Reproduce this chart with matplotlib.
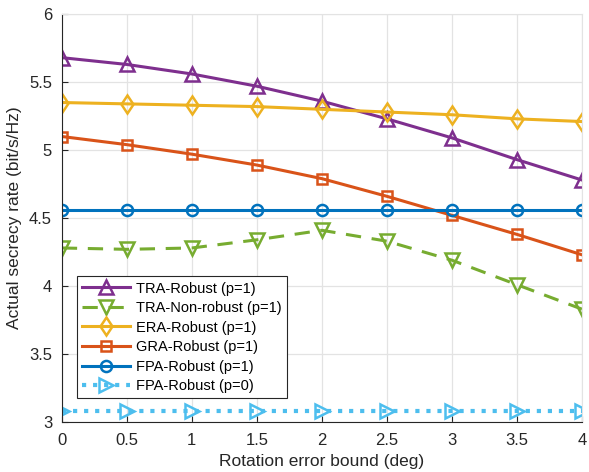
import numpy as np
import matplotlib.pyplot as plt

# Rotation error bound (deg)
x = [0, 0.5, 1, 1.5, 2, 2.5, 3, 3.5, 4]

tra_robust = [5.68, 5.63, 5.56, 5.47, 5.36, 5.23, 5.09, 4.93, 4.78]
tra_nonrobust = [4.28, 4.27, 4.28, 4.34, 4.41, 4.33, 4.19, 4.01, 3.83]
era_robust = [5.35, 5.34, 5.33, 5.32, 5.30, 5.28, 5.26, 5.23, 5.21]
gra_robust = [5.10, 5.04, 4.97, 4.89, 4.79, 4.66, 4.52, 4.38, 4.23]
fpa_robust_p1 = [4.56] * 9
fpa_robust_p0 = [3.08] * 9

labels = ['TRA-Robust (p=1)', 'TRA-Non-robust (p=1)', 'ERA-Robust (p=1)',
          'GRA-Robust (p=1)', 'FPA-Robust (p=1)', 'FPA-Robust (p=0)']

plt.rcParams['font.family'] = ['Liberation Sans', 'DejaVu Sans']

fig = plt.figure(figsize=(5.89, 4.72), dpi=100)
ax = fig.add_axes([0.105, 0.106, 0.883, 0.864])

ms = 9.5
mew = 1.8
lw = 2.2
ax.plot(x, tra_robust, '-', color='#7E2F8E', marker='^', ms=ms, mfc='none', mew=mew, lw=lw, label=labels[0])
ax.plot(x, tra_nonrobust, '--', color='#77AC30', marker='v', ms=ms, mfc='none', mew=mew, lw=lw, label=labels[1],
        dashes=(5, 3.5))
ax.plot(x, era_robust, '-', color='#EDB120', marker='d', ms=ms, mfc='none', mew=mew, lw=lw, label=labels[2])
ax.plot(x, gra_robust, '-', color='#D95319', marker='s', ms=7.5, mfc='none', mew=mew, lw=lw, label=labels[3])
ax.plot(x, fpa_robust_p1, '-', color='#0072BD', marker='o', ms=8, mfc='none', mew=mew, lw=lw, label=labels[4])
ax.plot(x, fpa_robust_p0, ':', color='#4DBEEE', marker='>', ms=ms, mfc='none', mew=mew, lw=3, label=labels[5])

ax.set_xlim(0, 4)
ax.set_ylim(3, 6)
ax.set_xticks(x)
ax.set_xticklabels(['0', '0.5', '1', '1.5', '2', '2.5', '3', '3.5', '4'])
ax.set_yticks([3, 3.5, 4, 4.5, 5, 5.5, 6])
ax.set_yticklabels(['3', '3.5', '4', '4.5', '5', '5.5', '6'])
ax.grid(True, color='#e3e3e3', lw=0.9)
ax.set_axisbelow(True)
ax.tick_params(direction='in', labelsize=12, colors='#262626', length=4)
ax.tick_params(axis='x', pad=8)
ax.tick_params(axis='y', pad=7)
for s in ['top', 'right']:
    ax.spines[s].set_color('#e3e3e3')
for s in ['left', 'bottom']:
    ax.spines[s].set_color('#262626')
ax.set_xlabel('Rotation error bound (deg)', fontsize=12.5, color='#262626', labelpad=4)
ax.set_ylabel('Actual secrecy rate (bit/s/Hz)', fontsize=12.5, color='#262626', labelpad=5)

leg = ax.legend(loc='lower left', bbox_to_anchor=(0.029, 0.058), fontsize=10.5, handlelength=3.3,
                fancybox=False, framealpha=1, edgecolor='#262626', borderpad=0.35,
                labelspacing=0.38, handletextpad=0.4, borderaxespad=0)
leg.get_frame().set_linewidth(0.8)

fig.savefig('out.png', dpi=100)
